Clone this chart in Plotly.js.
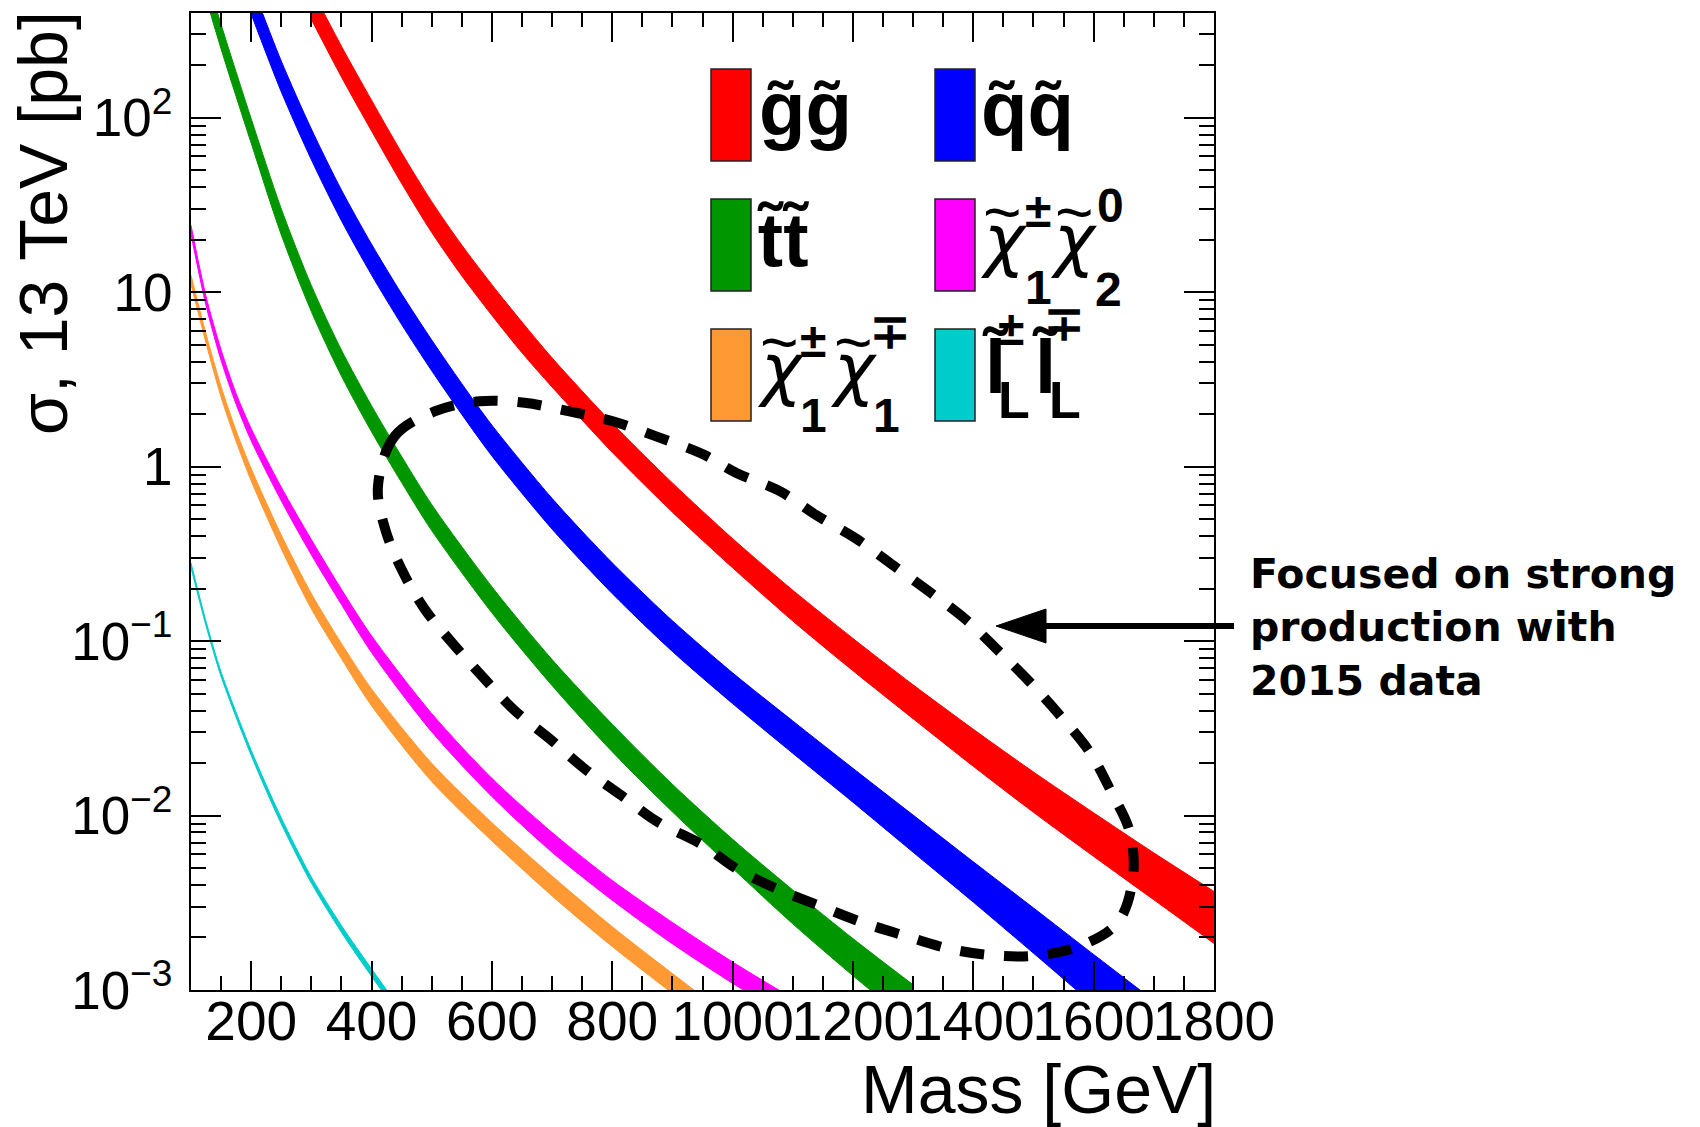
<!DOCTYPE html>
<html>
<head>
<meta charset="utf-8">
<script src="https://cdn.plot.ly/plotly-3.0.1.min.js"></script>
<style>html,body{margin:0;padding:0;background:#fff;}#chart{width:1700px;height:1127px;}</style>
</head>
<body>
<div id="chart"></div>
<script>
// ---------------- data ----------------
const gluinoMass = [300,350,400,450,500,550,600,650,700,800,900,1000,1100,1200,1300,1400,1500,1600,1700,1800];
const gluinoXsec = [457,214,105,52.5,27.5,15.5,9.2,5.62,3.53,1.49,0.677,0.325,0.163,0.0856,0.046,0.0252,0.0141,0.0081,0.0047,0.00276];
const gluinoUnc  = [0.2,0.2,0.2,0.2,0.2,0.2,0.2,0.2,0.19,0.19,0.19,0.19,0.2,0.21,0.22,0.24,0.26,0.28,0.3,0.33];

const squarkMass = [200,250,300,350,400,450,500,550,600,700,800,900,1000,1100,1200,1300,1400,1500,1600,1700];
const squarkXsec = [491,176,71.8,32.1,15.7,8.15,4.43,2.49,1.44,0.548,0.234,0.109,0.0548,0.0288,0.01528,0.00811,0.00431,0.00229,0.00121,0.000644];
const squarkUnc  = [0.2,0.2,0.2,0.2,0.2,0.2,0.2,0.2,0.2,0.2,0.2,0.2,0.2,0.21,0.22,0.24,0.26,0.29,0.32,0.35];

const stopMass = [100,150,200,250,300,350,400,450,500,600,700,800,900,1000,1100,1200,1300];
const stopXsec = [1122,295,85.1,25.7,9.33,3.98,1.91,0.977,0.518,0.175,0.067,0.0283,0.0128,0.00615,0.00307,0.00159,0.00085];
const stopUnc  = [0.15,0.16,0.16,0.17,0.17,0.17,0.17,0.17,0.17,0.17,0.17,0.18,0.18,0.19,0.22,0.24,0.26];

const c1n2Mass = [100,125,150,175,200,250,300,350,400,500,600,700,800,900,1000,1100];
const c1n2Xsec = [22.8,8.91,4.37,2.45,1.53,0.700,0.347,0.180,0.0966,0.0343,0.0146,0.00708,0.00376,0.00214,0.00127,0.000785];
const c1n2Unc  = [0.06,0.06,0.07,0.07,0.08,0.09,0.1,0.1,0.11,0.12,0.12,0.13,0.13,0.14,0.14,0.14];

const c1c1Mass = [100,125,150,175,200,250,300,350,400,500,600,700,800,900,1000];
const c1c1Xsec = [11.8,5.43,2.69,1.50,0.902,0.372,0.170,0.0881,0.0479,0.0178,0.00813,0.00398,0.00204,0.0011,0.000603];
const c1c1Unc  = [0.06,0.06,0.07,0.07,0.08,0.09,0.1,0.1,0.11,0.12,0.12,0.13,0.13,0.13,0.13];

const sleptonMass = [100,125,150,200,250,300,350,400,450];
const sleptonXsec = [0.272,0.126,0.0646,0.0229,0.00933,0.00427,0.00224,0.00126,0.000724];
const sleptonUnc  = [0.03,0.03,0.03,0.035,0.04,0.04,0.045,0.05,0.05];

// hand-drawn dashed outline ("focus" region), in (mass, cross-section)
const ellipseMass = [410.7,438.2,504.7,579.4,654.2,729,801,873,950,1006.4,1078.5,1139.3,1205.7,1266.7,1327.7,1388.5,1438.3,1493.8,1543.7,1593.5,1629.4,1660,1665.4,1640.5,1579.5,1507.6,1432.8,1358.1,1283.3,1214.1,1142.1,1072.9,1006.4,951.1,875.8,814.8,753.9,695.7,637.6,585.1,535.3,488.1,449.4,421.6,410.7];
const ellipseXsec = [0.771,1.49,2.07,2.37,2.32,2.07,1.82,1.49,1.18,0.92,0.723,0.526,0.386,0.272,0.191,0.132,0.0904,0.0583,0.0376,0.0231,0.01364,0.00805,0.00445,0.00245,0.0018,0.00158,0.00158,0.00173,0.00206,0.00245,0.00306,0.00381,0.00496,0.00675,0.00918,0.01306,0.01857,0.0276,0.0401,0.0622,0.0966,0.153,0.260,0.451,0.771];

const xTickVals = [200,400,600,800,1000,1200,1400,1600,1800];
const xTickText = ['200','400','600','800','1000','1200','1400','1600','1800'];
const yTickVals = [0.001,0.01,0.1,1,10,100];
const yTickText = ['10<sup>\u22123</sup>','10<sup>\u22122</sup>','10<sup>\u22121</sup>','1','10','10<sup>2</sup>'];

const seriesList = [
  {name:'stop',    mass:stopMass,    xsec:stopXsec,    unc:stopUnc,    color:'#009600'},
  {name:'squark',  mass:squarkMass,  xsec:squarkXsec,  unc:squarkUnc,  color:'#0000ff'},
  {name:'gluino',  mass:gluinoMass,  xsec:gluinoXsec,  unc:gluinoUnc,  color:'#ff0000'},
  {name:'c1n2',    mass:c1n2Mass,    xsec:c1n2Xsec,    unc:c1n2Unc,    color:'#ff00ff'},
  {name:'c1c1',    mass:c1c1Mass,    xsec:c1c1Xsec,    unc:c1c1Unc,    color:'#ff9933'},
  {name:'slepton', mass:sleptonMass, xsec:sleptonXsec, unc:sleptonUnc, color:'#00cccc'}
];

// ---------------- traces ----------------
const traces = [];
seriesList.forEach(s => {
  const lo = s.xsec.map((v,i) => v*(1 - s.unc[i]));
  const hi = s.xsec.map((v,i) => v*(1 + s.unc[i]));
  traces.push({x:s.mass, y:lo, mode:'lines', type:'scatter', line:{color:s.color, width:1, shape:'spline', smoothing:0.8}, hoverinfo:'skip', showlegend:false});
  traces.push({x:s.mass, y:hi, mode:'lines', type:'scatter', fill:'tonexty', fillcolor:s.color, line:{color:s.color, width:1, shape:'spline', smoothing:0.8}, hoverinfo:'skip', showlegend:false});
});
traces.push({x:ellipseMass, y:ellipseXsec, mode:'lines', type:'scatter', line:{color:'#000', width:10, dash:'24px,20px', shape:'spline', smoothing:1.0}, hoverinfo:'skip', showlegend:false});

// ---------------- layout helpers (pixel -> paper) ----------------
const L = 191, R = 1214, T = 13, B = 990;
const px = X => (X - L) / (R - L);
const py = Y => (B - Y) / (B - T);

const shapes = [];
const annotations = [];

// legend boxes
const legendBoxes = [
  {color:'#ff0000', x0:711, y0:69},
  {color:'#0000ff', x0:935, y0:69},
  {color:'#009600', x0:711, y0:199},
  {color:'#ff00ff', x0:935, y0:199},
  {color:'#ff9933', x0:711, y0:329},
  {color:'#00cccc', x0:935, y0:329}
];
legendBoxes.forEach(b => {
  shapes.push({type:'rect', xref:'paper', yref:'paper', x0:px(b.x0), x1:px(b.x0+40), y0:py(b.y0+92), y1:py(b.y0), fillcolor:b.color, line:{color:'#222', width:1.5}});
});

const SANS = 'Liberation Sans, Arial, sans-serif';
const GREEK = 'DejaVu Sans, sans-serif';
function txt(text, X, baseY, size, family, weight, style) {
  annotations.push({xref:'paper', yref:'paper', x:px(X), y:py(baseY - 0.3465*size), xanchor:'left', yanchor:'middle',
    text:text, showarrow:false, borderpad:0, borderwidth:0,
    font:{family:family || SANS, size:size, color:'#000', weight:weight || 'bold', style:style || 'normal'}});
}
// a script glyph centred vertically on centerY
function mid(text, X, centerY, size) { txt(text, X, centerY + 0.3465*size, size); }
function tilde(X, centerY, size) { txt('~', X, centerY + 0.3465*size, size, SANS, 'normal'); }
function chi(X, baseY) { txt('\u03c7', X, baseY, 69, GREEK, 'normal', 'italic'); }

const SCRIPT = 48;
// legend labels
txt('g\u0303g\u0303', 759, 135, 76);
txt('q\u0303q\u0303', 981, 135, 76);
txt('t\u0303t\u0303', 757, 266, 76);
// chi1+- chi2 0
chi(980, 264); tilde(983, 212, 66);
mid('\u00b1', 1025, 210, SCRIPT);
txt('1', 1025, 304, SCRIPT);
chi(1050, 264); tilde(1055, 212, 66);
txt('0', 1097, 222, SCRIPT);
txt('2', 1095, 306, SCRIPT);
// chi1+- chi1-+
chi(757, 393); tilde(760, 342, 66);
mid('\u00b1', 800, 340, SCRIPT);
txt('1', 800, 432, SCRIPT);
chi(830, 393); tilde(834, 342, 66);
mid('\u2213', 870, 331, SCRIPT);
txt('1', 873, 432, SCRIPT);
// slepton
txt('l\u0303', 982, 393, 76);
mid('\u00b1', 998, 328, SCRIPT);
txt('L', 998, 418, 52);
txt('l\u0303', 1032, 393, 76);
mid('\u2213', 1044, 323, SCRIPT);
txt('L', 1049, 418, 52);

// axis titles
annotations.push({xref:'paper', yref:'paper', x:px(1216), y:py(1089), xanchor:'right', yanchor:'middle', showarrow:false,
  text:'Mass [GeV]', borderpad:0, borderwidth:0, font:{family:SANS, size:68, color:'#000'}});
annotations.push({xref:'paper', yref:'paper', x:px(43), y:py(11), xanchor:'center', yanchor:'top', textangle:-90, showarrow:false,
  text:'\u03c3, 13 TeV [pb]', borderpad:0, borderwidth:0, font:{family:SANS, size:68, color:'#000'}});

// side note + arrow
annotations.push({xref:'paper', yref:'paper', x:px(1250), y:py(550), xanchor:'left', yanchor:'top', align:'left', showarrow:false,
  text:'Focused on strong<br>production with<br>2015 data', borderpad:0, borderwidth:0,
  font:{family:'DejaVu Sans, sans-serif', size:41, color:'#000', weight:'bold'}});
shapes.push({type:'line', xref:'paper', yref:'paper', x0:px(1040), x1:px(1234), y0:py(626), y1:py(626), line:{color:'#000', width:6}});
shapes.push({type:'path', xref:'paper', yref:'paper', fillcolor:'#000', line:{color:'#000', width:1},
  path:'M'+px(996)+','+py(626)+' L'+px(1046)+','+py(609)+' L'+px(1046)+','+py(643)+' Z'});

// minor tick positions on the log axis
const yMinor = [];
for (let e = -3; e <= 2; e++) for (let k = 2; k <= 9; k++) { const v = k*Math.pow(10,e); if (v < 400) yMinor.push(v); }

const layout = {
  width:1700, height:1127,
  margin:{l:L, r:1700-R, t:T, b:1127-B, pad:0},
  paper_bgcolor:'#fff', plot_bgcolor:'#fff',
  showlegend:false,
  xaxis:{range:[100,1800], tickmode:'array', tickvals:xTickVals, ticktext:xTickText, tickangle:0,
    ticks:'inside', ticklen:29, tickwidth:2, tickcolor:'#000', showline:true, linewidth:2, linecolor:'#000', mirror:'allticks',
    showgrid:false, zeroline:false, tickfont:{family:SANS, size:55, color:'#000'}, ticklabelstandoff:-18,
    minor:{tickmode:'linear', tick0:0, dtick:50, ticks:'inside', ticklen:14, tickwidth:2, tickcolor:'#000', showgrid:false}},
  yaxis:{type:'log', range:[-3, 2.6], tickmode:'array', tickvals:yTickVals, ticktext:yTickText,
    ticks:'inside', ticklen:30, tickwidth:2, tickcolor:'#000', showline:true, linewidth:2, linecolor:'#000', mirror:'allticks',
    showgrid:false, zeroline:false, tickfont:{family:SANS, size:53, color:'#000'}, ticklabelstandoff:6,
    minor:{tickmode:'array', tickvals:yMinor, ticks:'inside', ticklen:15, tickwidth:2, tickcolor:'#000', showgrid:false}},
  shapes:shapes,
  annotations:annotations
};

Plotly.newPlot('chart', traces, layout, {staticPlot:true, displayModeBar:false});
</script>
</body>
</html>
